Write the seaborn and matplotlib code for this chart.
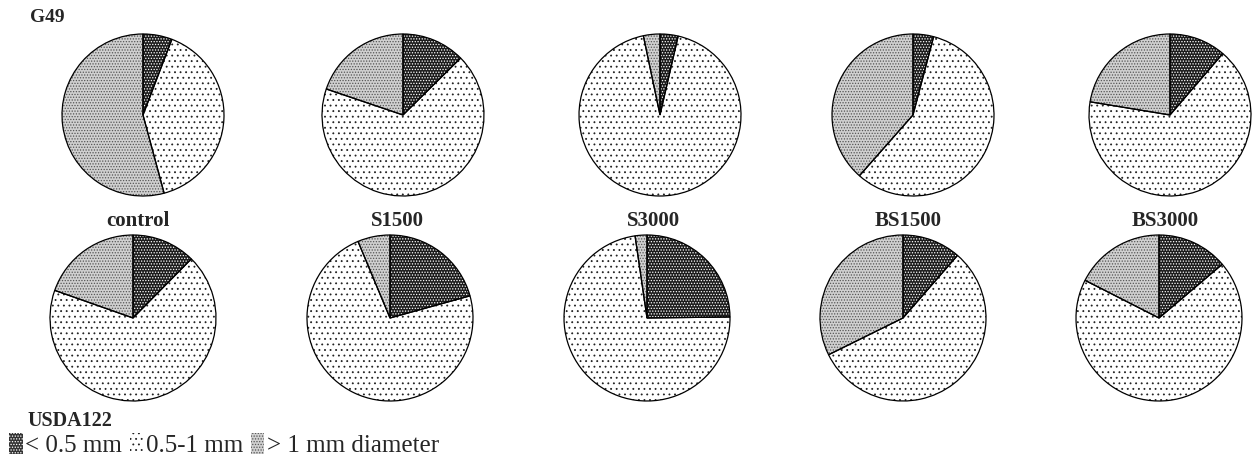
import matplotlib
matplotlib.use("Agg")
import matplotlib.pyplot as plt
from matplotlib.patches import Patch
import seaborn as sns
import pandas as pd

# Aggregate size distribution (% of total mass) per treatment and genotype
treatments = ["control", "S1500", "S3000", "BS1500", "BS3000"]
size_classes = ["< 0.5 mm", "0.5-1 mm", "> 1 mm diameter"]
g49_fine = [5.8, 12.6, 3.6, 4.1, 11.3]
g49_mid = [40.0, 67.6, 93.1, 57.4, 66.3]
g49_coarse = [54.2, 19.8, 3.3, 38.5, 22.4]
usda_fine = [12.4, 20.7, 24.8, 11.4, 13.8]
usda_mid = [68.0, 73.0, 72.9, 56.3, 68.7]
usda_coarse = [19.6, 6.3, 2.3, 32.3, 17.5]

df = pd.DataFrame({
    "genotype": ["G49"] * 5 + ["USDA122"] * 5,
    "treatment": treatments * 2,
    size_classes[0]: g49_fine + usda_fine,
    size_classes[1]: g49_mid + usda_mid,
    size_classes[2]: g49_coarse + usda_coarse,
})

sns.set_theme(style="white")
plt.rcParams["font.family"] = ["Liberation Serif", "DejaVu Serif"]
plt.rcParams["hatch.linewidth"] = 0.6

# fill colour, hatch pattern, hatch colour for each size class
fills = ["#1c1c1c", "white", "#d0d0d0"]
hatches = ["......", "...", "......"]
hatch_cols = ["#ffffff", "#222222", "#555555"]

W, H = 1255, 459
fig = plt.figure(figsize=(W / 100, H / 100), dpi=100)
fig.patch.set_facecolor("white")

rows = {
    "G49": dict(cx=[143, 403, 660, 913, 1170], cy=115, r=81),
    "USDA122": dict(cx=[133, 390, 647, 903, 1159], cy=318, r=83),
}
LIM = 1.04

for geno, lay in rows.items():
    sub = df[df["genotype"] == geno].set_index("treatment")
    for trt, cx in zip(treatments, lay["cx"]):
        vals = sub.loc[trt, size_classes].to_numpy(dtype=float)
        half = lay["r"] * LIM
        ax = fig.add_axes([(cx - half) / W, 1 - (lay["cy"] + half) / H,
                           2 * half / W, 2 * half / H])
        common = dict(startangle=90, counterclock=False, radius=1)
        ax.pie(vals, colors=fills, wedgeprops=dict(linewidth=0), **common)
        wedges, _ = ax.pie(vals, colors=["none"] * 3,
                           wedgeprops=dict(linewidth=0), **common)
        for w, h, hc in zip(wedges, hatches, hatch_cols):
            w.set_hatch(h)
            w.set_edgecolor(hc)
        ax.pie(vals, colors=["none"] * 3,
               wedgeprops=dict(linewidth=0.9, edgecolor="black"), **common)
        ax.set_xlim(-LIM, LIM)
        ax.set_ylim(-LIM, LIM)
        ax.set_axis_off()

# treatment names between the two rows
label_x = [138, 397, 653, 908, 1165]
for trt, x in zip(treatments, label_x):
    fig.text(x / W, 1 - 221 / H, trt, ha="center", va="center",
             fontsize=15, fontweight="bold")

fig.text(30 / W, 1 - 18 / H, "G49", ha="left", va="center",
         fontsize=14, fontweight="bold")
fig.text(27 / W, 1 - 421 / H, "USDA122", ha="left", va="center",
         fontsize=14.5, fontweight="bold")

handles = [Patch(facecolor=f, hatch=h, edgecolor=hc, linewidth=0)
           for f, h, hc in zip(fills, hatches, hatch_cols)]
handles[0].set_facecolor("#333333")
fig.legend(handles, size_classes, loc="lower left",
           bbox_to_anchor=(9 / W, 2 / H), ncol=3, frameon=False,
           fontsize=18, handlelength=0.55, handleheight=0.95,
           handletextpad=0.1, columnspacing=0.3, borderpad=0,
           borderaxespad=0)

fig.savefig("out.png", dpi=100, facecolor="white")
